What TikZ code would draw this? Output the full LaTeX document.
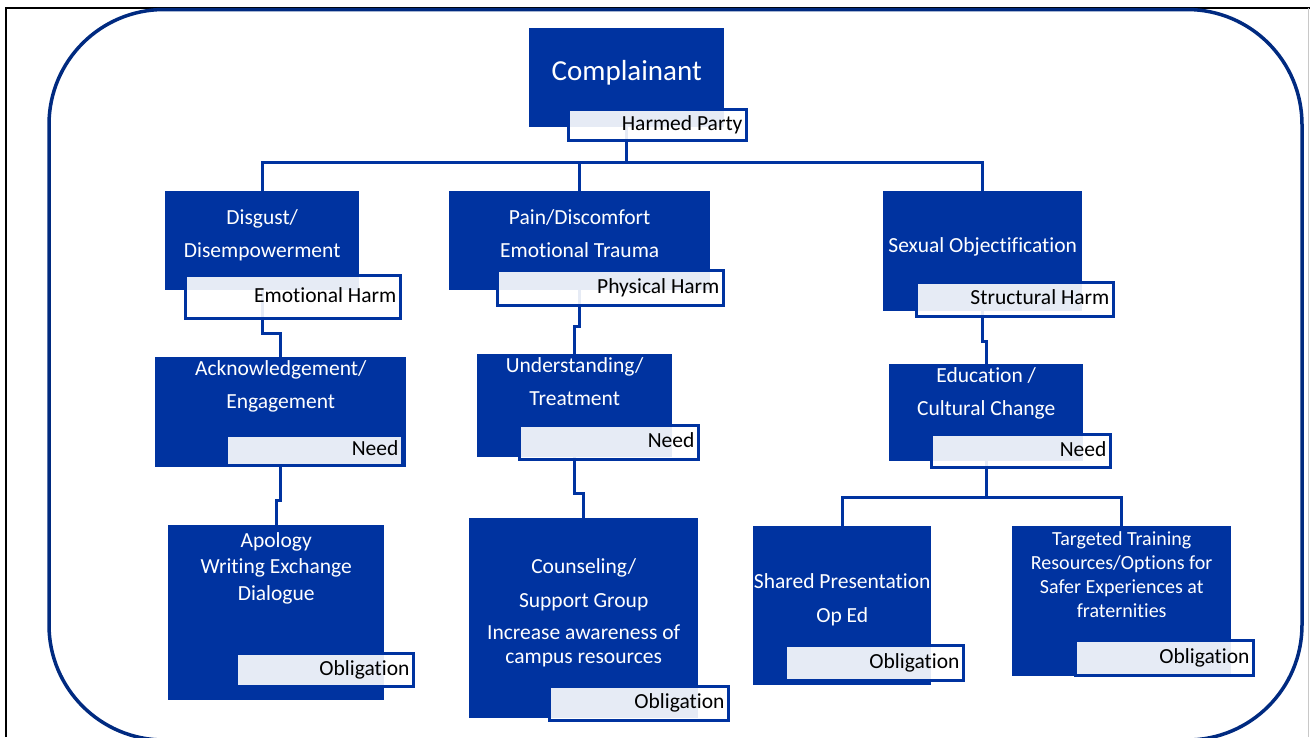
\documentclass[tikz,border=0pt]{standalone}
\usepackage{fontspec}
\setmainfont{Carlito}[Ligatures={NoCommon}]
\definecolor{boxblue}{RGB}{0,51,160}
\definecolor{framenavy}{RGB}{0,42,128}
\definecolor{edgegrey}{RGB}{200,200,200}

\begin{document}
\begin{tikzpicture}[x=1pt, y=-1pt,
  block/.style={fill=boxblue, draw=none, inner sep=0pt, anchor=north west},
  txt/.style={text=white, anchor=base, inner sep=0pt, font=\fontsize{21.5}{26}\selectfont},
  title/.style={txt, font=\fontsize{29}{34}\selectfont},
  tag/.style={draw=boxblue, line width=2.8pt, fill=white, fill opacity=0.9, text opacity=1,
    inner xsep=4pt, inner ysep=0pt, align=flush right, anchor=north west,
    text height=15pt, text depth=4pt, font=\fontsize{21.5}{26}\selectfont},
  conn/.style={draw=boxblue, line width=3pt}]

\clip (0,0) rectangle (1310,737);

% page frame and rounded panel
\draw[black, line width=2.5pt] (6,737) -- (6,8) -- (1310,8);
\draw[edgegrey, line width=1pt] (1308.5,8) -- (1308.5,737);
\draw[framenavy, line width=3.5pt, rounded corners=115pt] (49,9.5) rectangle (1302,740);

% boxes
\node[block, minimum width=195pt, minimum height=99pt]  (comp)     at (529,28)  {};
\node[block, minimum width=194pt, minimum height=99pt]  (disgust)  at (165,191) {};
\node[block, minimum width=261pt, minimum height=99pt]  (pain)     at (449,191) {};
\node[block, minimum width=199pt, minimum height=120pt] (sexual)   at (883,191) {};
\node[block, minimum width=251pt, minimum height=110pt] (ack)      at (155,357) {};
\node[block, minimum width=195pt, minimum height=103pt] (und)      at (477,354) {};
\node[block, minimum width=194pt, minimum height=97pt]  (edu)      at (889,364) {};
\node[block, minimum width=216pt, minimum height=175pt] (apology)  at (168,525) {};
\node[block, minimum width=229pt, minimum height=200pt] (couns)    at (469,518) {};
\node[block, minimum width=178pt, minimum height=159pt] (shared)   at (753,526) {};
\node[block, minimum width=219pt, minimum height=150pt] (targeted) at (1012,526) {};

% box texts
\node[title] (comp-t) at (comp.center |- 0,80) {Complainant};
\node[txt] (disgust-t1) at (disgust.center |- 0,224) {Disgust/};
\node[txt] (disgust-t2) at (disgust.center |- 0,257) {Disempowerment};
\node[txt] (pain-t1) at (pain.center |- 0,224) {Pain/Discomfort};
\node[txt] (pain-t2) at (pain.center |- 0,257) {Emotional Trauma};
\node[txt] (sexual-t) at (sexual.center |- 0,252) {Sexual Objectification};
\node[txt] (ack-t1) at (ack.center |- 0,375) {Acknowledgement/};
\node[txt] (ack-t2) at (ack.center |- 0,408) {Engagement};
\node[txt] (und-t1) at (und.center |- 0,372) {Understanding/};
\node[txt] (und-t2) at (und.center |- 0,405) {Treatment};
\node[txt] (edu-t1) at (edu.center |- 0,382) {Education /};
\node[txt] (edu-t2) at (edu.center |- 0,415) {Cultural Change};
\node[txt] (apology-t1) at (apology.center |- 0,547) {Apology};
\node[txt] (apology-t2) at (apology.center |- 0,573) {Writing Exchange};
\node[txt] (apology-t3) at (apology.center |- 0,600) {Dialogue};
\node[txt] (couns-t1) at (couns.center |- 0,573) {Counseling/};
\node[txt] (couns-t2) at (couns.center |- 0,607) {Support Group};
\node[txt] (couns-t3) at (couns.center |- 0,639) {Increase awareness of};
\node[txt] (couns-t4) at (couns.center |- 0,663) {campus resources};
\node[txt] (shared-t1) at (shared.center |- 0,588) {Shared Presentation};
\node[txt] (shared-t2) at (shared.center |- 0,622) {Op Ed};
\node[txt, font=\fontsize{20}{24}\selectfont] (targeted-t1) at (targeted.center |- 0,545) {Targeted Training};
\node[txt, font=\fontsize{20}{24}\selectfont] (targeted-t2) at (targeted.center |- 0,569) {Resources/Options for};
\node[txt, font=\fontsize{20}{24}\selectfont] (targeted-t3) at (targeted.center |- 0,593) {Safer Experiences at};
\node[txt, font=\fontsize{20}{24}\selectfont] (targeted-t4) at (targeted.center |- 0,617) {fraternities};

% connectors
\coordinate (bus1) at (0,162);
\coordinate (bus2) at (0,497);
\draw[conn] (comp.south) -- (comp.south |- bus1);
\draw[conn] (disgust.north) |- (sexual.north |- bus1) -- (sexual.north);
\draw[conn] (pain.north) -- (pain.north |- bus1);
\draw[conn] (disgust.south) -- ++(0,43) -| (ack.north);
\draw[conn] (pain.south) -- ++(0,36) -| (und.north);
\draw[conn] (sexual.south) -- ++(0,30) -| (edu.north);
\draw[conn] (ack.south) -- ++(0,33) -| (apology.north);
\draw[conn] (und.south) -- ++(0,36) -| (couns.north);
\draw[conn] (edu.south) -- (edu.south |- bus2);
\draw[conn] (shared.north) |- (targeted.north |- bus2) -- (targeted.north);

% role tags
\node[tag, text width=170pt, minimum height=31pt] (comp-tag)     at (567,108) {Harmed Party};
\node[tag, text width=207pt, minimum height=43pt] (disgust-tag)  at (184,274) {Emotional Harm};
\node[tag, text width=218pt, minimum height=35pt] (pain-tag)     at (496,269) {Physical Harm};
\node[tag, text width=189pt, minimum height=34pt] (sexual-tag)   at (915,281) {Structural Harm};
\node[tag, text width=168pt, minimum height=30pt] (ack-tag)      at (225,434) {Need};
\node[tag, text width=171pt, minimum height=34pt] (und-tag)      at (518,424) {Need};
\node[tag, text width=171pt, minimum height=33pt] (edu-tag)      at (930,433) {Need};
\node[tag, text width=169pt, minimum height=33pt] (apology-tag)  at (235,652) {Obligation};
\node[tag, text width=171pt, minimum height=34pt] (couns-tag)    at (548,685) {Obligation};
\node[tag, text width=170pt, minimum height=35pt] (shared-tag)   at (784,644) {Obligation};
\node[tag, text width=170pt, minimum height=35pt] (targeted-tag) at (1074,639) {Obligation};
\end{tikzpicture}
\end{document}
